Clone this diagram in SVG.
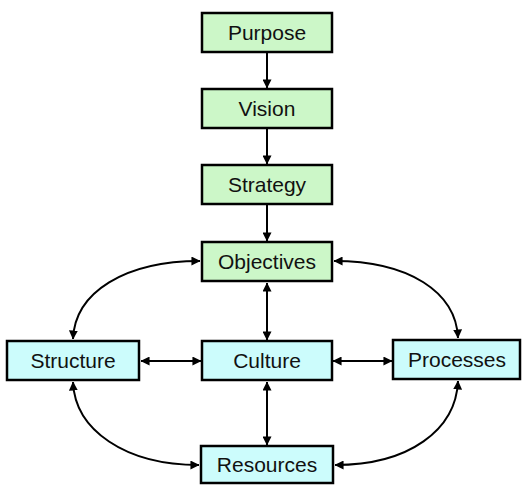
<svg xmlns="http://www.w3.org/2000/svg" width="522" height="485" viewBox="0 0 522 485">
<style>
.g{fill:#ccf7c8;stroke:#000;stroke-width:2.5}
.c{fill:#ccfcfc;stroke:#000;stroke-width:2.5}
.t{font-family:"Liberation Sans",Arial,sans-serif;font-size:21px;fill:#111;text-anchor:middle}
.e{fill:none;stroke:#000;stroke-width:2;marker-end:url(#ah)}
.d{fill:none;stroke:#000;stroke-width:2;marker-end:url(#ah);marker-start:url(#ah)}
</style>
<defs>
<marker id="ah" viewBox="0 0 10 10" refX="9.5" refY="5" markerWidth="4.5" markerHeight="4.5" orient="auto-start-reverse" markerUnits="strokeWidth">
<path d="M0,0 L10,5 L0,10 z" fill="#000"/>
</marker>
</defs>
<rect width="522" height="485" fill="#fff"/>
<g id="connectors">
<line class="e" x1="267" y1="53" x2="267" y2="88"/>
<line class="e" x1="267" y1="129" x2="267" y2="164"/>
<line class="e" x1="267" y1="205" x2="267" y2="241"/>
<line class="d" x1="267" y1="283" x2="267" y2="340"/>
<line class="d" x1="267" y1="382" x2="267" y2="445"/>
<line class="d" x1="141" y1="361" x2="201" y2="361"/>
<line class="d" x1="333" y1="361" x2="392" y2="361"/>
<path class="d" d="M200,261 C125,261 75,292 73,339"/>
<path class="d" d="M334,261 C409,261 456,292 458,338"/>
<path class="d" d="M73,382 C75,430 125,465 199,465"/>
<path class="d" d="M458,381 C456,430 409,465 335,465"/>
</g>
<g id="purpose"><rect class="g" x="202" y="13" width="130" height="39"/><text class="t" x="267" y="40">Purpose</text></g>
<g id="vision"><rect class="g" x="202" y="89" width="130" height="39"/><text class="t" x="267" y="116">Vision</text></g>
<g id="strategy"><rect class="g" x="202" y="165" width="130" height="39"/><text class="t" x="267" y="192">Strategy</text></g>
<g id="objectives"><rect class="g" x="202" y="242" width="130" height="39"/><text class="t" x="267" y="269">Objectives</text></g>
<g id="structure"><rect class="c" x="7" y="341" width="132" height="39"/><text class="t" x="73" y="368">Structure</text></g>
<g id="culture"><rect class="c" x="202" y="341" width="130" height="39"/><text class="t" x="267" y="368">Culture</text></g>
<g id="processes"><rect class="c" x="393" y="340" width="127" height="39"/><text class="t" x="457" y="367">Processes</text></g>
<g id="resources"><rect class="c" x="201" y="446" width="132" height="37"/><text class="t" x="267" y="472">Resources</text></g>
</svg>
